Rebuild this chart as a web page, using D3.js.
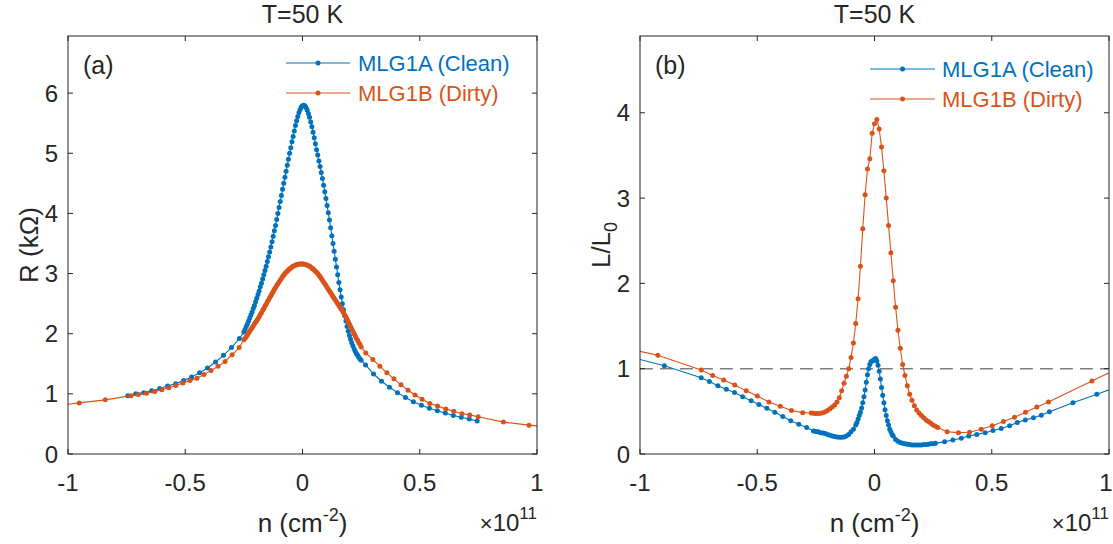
<!DOCTYPE html>
<html>
<head>
<meta charset="utf-8">
<script src="https://cdn.jsdelivr.net/npm/d3@7"></script>
<style>
  body { margin: 0; background: #fff; }
  svg { display: block; }
  text { font-family: "Liberation Sans", Arial, Helvetica, sans-serif; fill: #262626; }
</style>
</head>
<body>
<svg id="fig" width="1113" height="544"></svg>
<script>
// ---- axis ticks ----
const nTicks = [-1, -0.5, 0, 0.5, 1];
const nTickLabels = ["-1", "-0.5", "0", "0.5", "1"];
const rTicks = [0, 1, 2, 3, 4, 5, 6];
const lTicks = [0, 1, 2, 3, 4];

// ---- legend labels ----
const seriesNames = ["MLG1A (Clean)", "MLG1B (Dirty)"];

// ---- (a) fine gate sweep near the Dirac point (both samples) ----
const aDenseN = [-0.25, -0.245, -0.24, -0.235, -0.23, -0.225, -0.22, -0.215, -0.21, -0.205,
  -0.2, -0.195, -0.19, -0.185, -0.18, -0.175, -0.17, -0.165, -0.16, -0.155,
  -0.15, -0.145, -0.14, -0.135, -0.13, -0.125, -0.12, -0.115, -0.11, -0.105,
  -0.1, -0.095, -0.09, -0.085, -0.08, -0.075, -0.07, -0.065, -0.06, -0.055,
  -0.05, -0.045, -0.04, -0.035, -0.03, -0.025, -0.02, -0.015, -0.01, -0.005,
  0,
  0.005, 0.01, 0.015, 0.02, 0.025, 0.03, 0.035, 0.04, 0.045, 0.05,
  0.055, 0.06, 0.065, 0.07, 0.075, 0.08, 0.085, 0.09, 0.095, 0.1,
  0.105, 0.11, 0.115, 0.12, 0.125, 0.13, 0.135, 0.14, 0.145, 0.15,
  0.155, 0.16, 0.165, 0.17, 0.175, 0.18, 0.185, 0.19, 0.195, 0.2,
  0.205, 0.21, 0.215, 0.22, 0.225, 0.23, 0.235, 0.24, 0.245, 0.25];
const aCleanDenseR = [2.03, 2.07, 2.12, 2.16, 2.21, 2.26, 2.31, 2.36, 2.42, 2.47,
  2.53, 2.59, 2.65, 2.71, 2.78, 2.84, 2.91, 2.98, 3.05, 3.12,
  3.20, 3.28, 3.36, 3.44, 3.53, 3.62, 3.71, 3.80, 3.90, 4.00,
  4.10, 4.20, 4.30, 4.40, 4.50, 4.60, 4.70, 4.80, 4.90, 5.00,
  5.09, 5.19, 5.28, 5.37, 5.46, 5.54, 5.61, 5.68, 5.73, 5.77,
  5.79,
  5.80, 5.79, 5.76, 5.72, 5.66, 5.60, 5.52, 5.44, 5.35, 5.26,
  5.16, 5.06, 4.97, 4.87, 4.78, 4.68, 4.58, 4.47, 4.36, 4.25,
  4.13, 4.01, 3.89, 3.76, 3.63, 3.50, 3.37, 3.24, 3.11, 2.98,
  2.85, 2.73, 2.61, 2.50, 2.40, 2.30, 2.21, 2.12, 2.04, 1.97,
  1.91, 1.85, 1.80, 1.75, 1.71, 1.67, 1.64, 1.61, 1.58, 1.56];
const aDirtyDenseR = [1.90, 1.92, 1.95, 1.98, 2.01, 2.04, 2.07, 2.10, 2.13, 2.16,
  2.19, 2.22, 2.25, 2.28, 2.32, 2.35, 2.39, 2.42, 2.46, 2.49,
  2.53, 2.56, 2.60, 2.63, 2.67, 2.70, 2.74, 2.77, 2.80, 2.83,
  2.86, 2.89, 2.92, 2.95, 2.97, 3.00, 3.02, 3.04, 3.06, 3.08,
  3.09, 3.11, 3.12, 3.13, 3.14, 3.15, 3.15, 3.16, 3.16, 3.16,
  3.16,
  3.16, 3.15, 3.15, 3.14, 3.13, 3.12, 3.11, 3.09, 3.08, 3.06,
  3.04, 3.02, 3.00, 2.97, 2.95, 2.92, 2.89, 2.86, 2.83, 2.80,
  2.77, 2.74, 2.71, 2.68, 2.65, 2.62, 2.59, 2.56, 2.53, 2.50,
  2.47, 2.44, 2.41, 2.38, 2.35, 2.31, 2.28, 2.24, 2.20, 2.16,
  2.12, 2.08, 2.04, 2.00, 1.96, 1.92, 1.89, 1.85, 1.82, 1.78];

// ---- (a) coarse sweep, clean sample ----
const aCleanLowN = [-0.745, -0.711, -0.677, -0.643, -0.609, -0.575, -0.541, -0.507, -0.473, -0.439, -0.405, -0.371, -0.337, -0.303, -0.269];
const aCleanLowR = [0.97, 1.00, 1.02, 1.05, 1.09, 1.13, 1.17, 1.22, 1.28, 1.35, 1.43, 1.53, 1.64, 1.77, 1.92];
const aCleanHighN = [0.269, 0.303, 0.337, 0.371, 0.405, 0.439, 0.473, 0.507, 0.541, 0.575, 0.609, 0.643, 0.677, 0.711, 0.745];
const aCleanHighR = [1.48, 1.33, 1.21, 1.11, 1.02, 0.94, 0.87, 0.81, 0.76, 0.72, 0.68, 0.64, 0.61, 0.58, 0.55];

// ---- (a) coarse sweep, dirty sample ----
const aDirtyLowN = [-1.06, -0.952, -0.841, -0.731, -0.70, -0.665, -0.63, -0.60, -0.57, -0.54, -0.51, -0.48, -0.45, -0.42, -0.39, -0.36, -0.33, -0.30, -0.27];
const aDirtyLowR = [0.80, 0.85, 0.90, 0.97, 0.99, 1.01, 1.04, 1.07, 1.10, 1.14, 1.18, 1.22, 1.26, 1.32, 1.39, 1.46, 1.54, 1.65, 1.77];
const aDirtyHighN = [0.27, 0.30, 0.33, 0.36, 0.39, 0.42, 0.45, 0.48, 0.51, 0.543, 0.576, 0.611, 0.645, 0.68, 0.713, 0.749, 0.857, 0.966, 1.07];
const aDirtyHighR = [1.68, 1.57, 1.46, 1.35, 1.25, 1.15, 1.06, 0.98, 0.91, 0.84, 0.80, 0.75, 0.71, 0.67, 0.65, 0.62, 0.53, 0.48, 0.44];

// ---- (b) Lorenz ratio, clean sample ----
const bCleanN = [-1.06, -0.896, -0.739, -0.704, -0.668, -0.632, -0.597, -0.562, -0.526, -0.493, -0.459, -0.425, -0.391, -0.357, -0.323, -0.289,
  -0.26, -0.25, -0.24, -0.23, -0.22, -0.21, -0.20, -0.19, -0.18, -0.17, -0.16, -0.15, -0.14, -0.13, -0.12, -0.11, -0.10, -0.09, -0.08,
  -0.075, -0.07, -0.065, -0.06, -0.055, -0.05, -0.045, -0.04, -0.035, -0.03, -0.025, -0.02, -0.015, -0.01, -0.005,
  0.00, 0.005, 0.01, 0.015, 0.02, 0.025, 0.03, 0.035, 0.04, 0.045, 0.05, 0.055, 0.06, 0.065, 0.07, 0.075,
  0.08, 0.09, 0.10, 0.11, 0.12, 0.13, 0.14, 0.15, 0.16, 0.17, 0.18, 0.19, 0.20, 0.21, 0.22, 0.23, 0.24, 0.25, 0.26,
  0.299, 0.334, 0.37, 0.402, 0.436, 0.472, 0.505, 0.54, 0.576, 0.609, 0.643, 0.678, 0.711, 0.746, 0.846, 0.948, 1.05];
const bCleanL = [1.15, 1.035, 0.895, 0.85, 0.80, 0.76, 0.72, 0.67, 0.625, 0.58, 0.535, 0.49, 0.44, 0.39, 0.35, 0.31,
  0.27, 0.265, 0.26, 0.25, 0.245, 0.24, 0.23, 0.22, 0.21, 0.205, 0.20, 0.195, 0.195, 0.20, 0.21, 0.23, 0.26, 0.29, 0.34,
  0.37, 0.41, 0.45, 0.49, 0.54, 0.60, 0.67, 0.75, 0.84, 0.93, 1.00, 1.05, 1.08, 1.09, 1.10,
  1.11, 1.12, 1.09, 1.04, 0.97, 0.88, 0.78, 0.69, 0.60, 0.52, 0.45, 0.39, 0.34, 0.29, 0.26, 0.23,
  0.21, 0.17, 0.15, 0.135, 0.125, 0.12, 0.115, 0.11, 0.105, 0.105, 0.105, 0.105, 0.105, 0.11, 0.11, 0.115, 0.12, 0.12, 0.125,
  0.145, 0.165, 0.185, 0.21, 0.23, 0.25, 0.275, 0.30, 0.33, 0.37, 0.40, 0.425, 0.455, 0.495, 0.60, 0.70, 0.80];

// ---- (b) Lorenz ratio, dirty sample ----
const bDirtyN = [-1.06, -0.924, -0.739, -0.69, -0.643, -0.596, -0.547, -0.50, -0.45, -0.402, -0.354, -0.306,
  -0.27, -0.26, -0.25, -0.24, -0.23, -0.22, -0.21, -0.20, -0.19, -0.18, -0.17, -0.16, -0.15, -0.14, -0.13, -0.12, -0.11, -0.10, -0.09, -0.08, -0.07, -0.06, -0.05, -0.04, -0.03, -0.02, -0.01,
  0.00, 0.01, 0.02, 0.03, 0.04, 0.05, 0.06, 0.07, 0.08, 0.09, 0.10, 0.11, 0.12, 0.13, 0.14, 0.15, 0.16, 0.17, 0.18, 0.19, 0.20, 0.21, 0.22, 0.23, 0.24, 0.25, 0.26, 0.27,
  0.31, 0.358, 0.405, 0.455, 0.502, 0.55, 0.597, 0.644, 0.692, 0.742, 0.927, 1.06];
const bDirtyL = [1.24, 1.157, 0.985, 0.92, 0.868, 0.81, 0.74, 0.68, 0.61, 0.56, 0.51, 0.485,
  0.48, 0.477, 0.475, 0.475, 0.478, 0.485, 0.495, 0.51, 0.53, 0.55, 0.575, 0.61, 0.66, 0.74, 0.83, 0.91, 1.00, 1.13, 1.30, 1.53, 1.82, 2.20, 2.64, 3.04, 3.34, 3.46, 3.76,
  3.87, 3.92, 3.81, 3.60, 3.32, 3.00, 2.68, 2.36, 2.03, 1.72, 1.45, 1.24, 1.05, 0.92, 0.80, 0.70, 0.63, 0.565, 0.515, 0.48, 0.45, 0.425, 0.40, 0.38, 0.36, 0.34, 0.325, 0.31,
  0.26, 0.25, 0.255, 0.29, 0.33, 0.38, 0.43, 0.49, 0.55, 0.61, 0.856, 1.03];

// reference level L/L0 = 1
const lorenzRef = 1;

const BLUE = "#0072BD", ORANGE = "#D95319", AXIS = "#262626";
const W = 1113;
const svg = d3.select("#fig");

const zip = (xs, ys) => xs.map((x, i) => [x, ys[i]]);

const aClean = [].concat(zip(aCleanLowN, aCleanLowR), zip(aDenseN, aCleanDenseR), zip(aCleanHighN, aCleanHighR));
const aDirty = [].concat(zip(aDirtyLowN, aDirtyLowR), zip(aDenseN, aDirtyDenseR), zip(aDirtyHighN, aDirtyHighR));

const panels = [
  {
    id: "pa", left: 68, right: 537, top: 36, bottom: 454, yMax: 6.95, yTicks: rTicks,
    tag: "(a)", tagX: 83, title: "T=50 K",
    series: [aClean, aDirty],
    ylabel: "R", legend: { x0: 286, x1: 350, tx: 358, rows: [63, 93] }, refLine: false
  },
  {
    id: "pb", left: 640, right: 1109, top: 36, bottom: 454, yMax: 4.9, yTicks: lTicks,
    tag: "(b)", tagX: 655, title: "T=50 K",
    series: [zip(bCleanN, bCleanL), zip(bDirtyN, bDirtyL)],
    ylabel: "L", legend: { x0: 870, x1: 935, tx: 942, rows: [69, 99] }, refLine: true
  }
];

const colors = [BLUE, ORANGE];

panels.forEach(p => {
  const x = d3.scaleLinear().domain([-1, 1]).range([p.left, p.right]);
  const y = d3.scaleLinear().domain([0, p.yMax]).range([p.bottom, p.top]);
  const g = svg.append("g");

  // clip region = plot box
  svg.append("clipPath").attr("id", "clip-" + p.id)
    .append("rect").attr("x", p.left).attr("y", p.top)
    .attr("width", p.right - p.left).attr("height", p.bottom - p.top);

  const plot = g.append("g").attr("clip-path", `url(#clip-${p.id})`);

  // dashed reference line
  if (p.refLine) {
    plot.append("line")
      .attr("x1", x(-1)).attr("x2", x(1))
      .attr("y1", y(lorenzRef)).attr("y2", y(lorenzRef))
      .attr("stroke", "#808080").attr("stroke-width", 1.6)
      .attr("stroke-dasharray", "13,7");
  }

  const line = d3.line().x(d => x(d[0])).y(d => y(d[1]));
  p.series.forEach((s, i) => {
    plot.append("path").datum(s).attr("d", line)
      .attr("fill", "none").attr("stroke", colors[i]).attr("stroke-width", 1.1);
    plot.append("g").selectAll("circle").data(s).join("circle")
      .attr("cx", d => x(d[0])).attr("cy", d => y(d[1])).attr("r", 2.5)
      .attr("fill", colors[i]);
  });

  // axes box with inward ticks on all sides
  const tickLen = 5;
  const axG = g.append("g").attr("stroke", AXIS).attr("stroke-width", 1).attr("fill", "none");
  axG.append("rect").attr("x", p.left).attr("y", p.top)
    .attr("width", p.right - p.left).attr("height", p.bottom - p.top);
  nTicks.forEach(t => {
    axG.append("line").attr("x1", x(t)).attr("x2", x(t)).attr("y1", p.bottom).attr("y2", p.bottom - tickLen);
    axG.append("line").attr("x1", x(t)).attr("x2", x(t)).attr("y1", p.top).attr("y2", p.top + tickLen);
  });
  p.yTicks.forEach(t => {
    axG.append("line").attr("x1", p.left).attr("x2", p.left + tickLen).attr("y1", y(t)).attr("y2", y(t));
    axG.append("line").attr("x1", p.right).attr("x2", p.right - tickLen).attr("y1", y(t)).attr("y2", y(t));
  });

  // tick labels (kept inside the figure edge)
  g.append("g").selectAll("text").data(nTicks).join("text")
    .attr("x", d => Math.min(x(d), W - 7)).attr("y", 491).attr("text-anchor", "middle")
    .attr("font-size", 24).text((d, i) => nTickLabels[i]);
  g.append("g").selectAll("text").data(p.yTicks).join("text")
    .attr("x", p.left - 10).attr("y", d => y(d) + 8.5).attr("text-anchor", "end")
    .attr("font-size", 24).text(d => d);

  // title
  g.append("text").attr("x", (p.left + p.right) / 2).attr("y", 23)
    .attr("text-anchor", "middle").attr("font-size", 25).text(p.title);

  // panel tag
  g.append("text").attr("x", p.tagX).attr("y", 74).attr("font-size", 25).text(p.tag);

  // x label: n (cm^-2)
  const xl = g.append("text").attr("x", (p.left + p.right) / 2).attr("y", 532)
    .attr("text-anchor", "middle").attr("font-size", 26);
  xl.append("tspan").text("n (cm");
  xl.append("tspan").attr("dy", -11).attr("font-size", 18).text("-2");
  xl.append("tspan").attr("dy", 11).text(")");

  // exponent multiplier
  const ex = g.append("text").attr("x", p.right).attr("y", 531)
    .attr("text-anchor", "end").attr("font-size", 24);
  ex.append("tspan").attr("font-size", 22).attr("font-weight", 300).text("×");
  ex.append("tspan").text("10");
  ex.append("tspan").attr("dy", -12).attr("font-size", 17).text("11");

  // y label
  const yl = g.append("text")
    .attr("transform", `translate(${p.left - 30},${(p.top + p.bottom) / 2}) rotate(-90)`)
    .attr("text-anchor", "middle").attr("font-size", 26);
  if (p.ylabel === "R") {
    yl.text("R (kΩ)");
  } else {
    yl.append("tspan").text("L/L");
    yl.append("tspan").attr("dy", 7).attr("font-size", 18).text("0");
  }

  // legend
  const lg = g.append("g");
  seriesNames.forEach((name, i) => {
    const yy = p.legend.rows[i];
    lg.append("line").attr("x1", p.legend.x0).attr("x2", p.legend.x1)
      .attr("y1", yy).attr("y2", yy).attr("stroke", colors[i]).attr("stroke-width", 1.1);
    lg.append("circle").attr("cx", (p.legend.x0 + p.legend.x1) / 2).attr("cy", yy)
      .attr("r", 2.5).attr("fill", colors[i]);
    lg.append("text").attr("x", p.legend.tx).attr("y", yy + 8)
      .attr("font-size", 22).style("fill", colors[i]).text(name);
  });
});
</script>
</body>
</html>
